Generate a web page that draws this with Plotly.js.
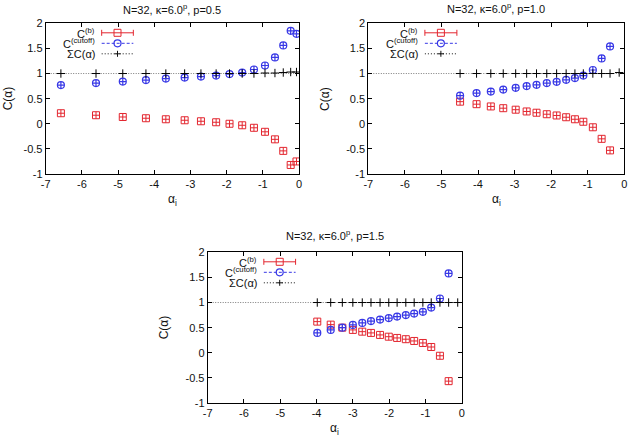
<!DOCTYPE html>
<html>
<head>
<meta charset="utf-8">
<script src="https://cdn.plot.ly/plotly-3.0.1.min.js"></script>
<style>
  html, body { margin: 0; padding: 0; background: #fff; }
  #chart { width: 630px; height: 438px; }
</style>
</head>
<body>
<div id="chart"></div>
<script>
// ---- data: p = 0.5 ----
const alphaP05 = [-6.58, -5.61, -4.87, -4.23, -3.68, -3.16, -2.71, -2.29, -1.92, -1.57, -1.245, -0.94, -0.665, -0.435, -0.23, -0.07];
const cbP05    = [0.21, 0.17, 0.135, 0.11, 0.09, 0.07, 0.05, 0.03, 0.0, -0.03, -0.08, -0.16, -0.31, -0.54, -0.82, -0.75];
const ccutP05  = [0.77, 0.81, 0.84, 0.87, 0.90, 0.92, 0.94, 0.96, 0.99, 1.02, 1.08, 1.16, 1.32, 1.56, 1.85, 1.79];
const csumP05  = [1.0, 1.0, 1.0, 1.0, 1.0, 1.0, 1.0, 1.0, 1.0, 1.0, 1.0, 1.01, 1.01, 1.02, 1.03, 1.03];

// ---- data: p = 1.0 (last point of C(b), C(cutoff) lies outside the y range) ----
const alphaP10 = [-4.49, -4.04, -3.65, -3.31, -2.97, -2.67, -2.40, -2.12, -1.85, -1.59, -1.35, -1.12, -0.86, -0.62, -0.39, -0.14];
const cbP10    = [0.44, 0.39, 0.345, 0.31, 0.28, 0.245, 0.22, 0.19, 0.165, 0.13, 0.09, 0.04, -0.07, -0.30, -0.53, null];
const ccutP10  = [0.56, 0.61, 0.64, 0.68, 0.715, 0.75, 0.775, 0.81, 0.835, 0.875, 0.91, 0.96, 1.07, 1.30, 1.54, null];
const csumP10  = [1.0, 1.0, 1.0, 1.0, 1.0, 1.0, 1.0, 1.0, 1.0, 1.0, 1.0, 1.0, 1.0, 1.0, 1.0, 1.02];

// ---- data: p = 1.5 ----
const alphaP15 = [-3.98, -3.61, -3.29, -3.00, -2.74, -2.50, -2.25, -2.01, -1.78, -1.54, -1.31, -1.07, -0.84, -0.60, -0.36, -0.11];
const cbP15    = [0.62, 0.56, 0.50, 0.455, 0.42, 0.395, 0.355, 0.32, 0.295, 0.27, 0.235, 0.195, 0.115, -0.06, -0.565, null];
const ccutP15  = [0.395, 0.455, 0.50, 0.555, 0.595, 0.63, 0.66, 0.69, 0.72, 0.75, 0.78, 0.815, 0.90, 1.08, 1.58, null];
const csumP15  = [1.0, 1.0, 1.0, 1.0, 1.0, 1.0, 1.0, 1.0, 1.0, 1.0, 1.0, 1.0, 1.0, 1.0, 1.0, 1.0];

// ---- labels ----
const panelTitles = ['N=32, κ=6.0<sup>p</sup>, p=0.5', 'N=32, κ=6.0<sup>p</sup>, p=1.0', 'N=32, κ=6.0<sup>p</sup>, p=1.5'];
const seriesNames = ['C<sup>(b)</sup>', 'C<sup>(cutoff)</sup>', 'ΣC(α)'];
const xTickVals = [-7, -6, -5, -4, -3, -2, -1, 0];
const xTickText = ['-7', '-6', '-5', '-4', '-3', '-2', '-1', '0'];
const yTickVals = [-1, -0.5, 0, 0.5, 1, 1.5, 2];
const yTickText = ['-1', '-0.5', '0', '0.5', '1', '1.5', '2'];
const xTitle = 'α<sub>i</sub>';
const yTitle = 'C(α)';
const unitLevel = 1;

// ---- styling ----
const RED = '#e3262f';
const BLUE = '#3838e6';
const BLACK = '#000000';
const FONT = 'Liberation Sans, Arial, sans-serif';
const W = 630, H = 438;

// plot rectangles in pixels: [left, right, top, bottom]
const boxes = [
  [45.7, 299.0, 23.3, 174.0],
  [368.3, 624.3, 23.3, 174.0],
  [207.7, 461.7, 252.3, 403.0]
];
const panelData = [
  { a: alphaP05, cb: cbP05, cc: ccutP05, cs: csumP05, titleGap: 14, yTitleGap: 38 },
  { a: alphaP10, cb: cbP10, cc: ccutP10, cs: csumP10, titleGap: 15, yTitleGap: 44 },
  { a: alphaP15, cb: cbP15, cc: ccutP15, cs: csumP15, titleGap: 17, yTitleGap: 44 }
];

const traces = [];
const shapes = [];
const annotations = [];
const layout = {
  width: W, height: H,
  margin: { l: 0, r: 0, t: 0, b: 0 },
  paper_bgcolor: '#fff', plot_bgcolor: '#fff',
  showlegend: false,
  font: { family: FONT, size: 11, color: '#111' }
};

panelData.forEach((p, i) => {
  const n = i === 0 ? '' : String(i + 1);
  const xa = 'x' + n, ya = 'y' + n;
  const [l, r, t, b] = boxes[i];
  const plotH = b - t;

  const axisCommon = {
    showline: true, linecolor: BLACK, linewidth: 1, mirror: 'ticks',
    ticks: 'inside', ticklen: 4, tickcolor: BLACK, tickwidth: 1,
    showgrid: false, zeroline: false,
    tickfont: { family: FONT, size: 11, color: '#111' }
  };
  layout['xaxis' + n] = Object.assign({}, axisCommon, {
    anchor: ya, domain: [l / W, r / W], range: [-7, 0],
    tickmode: 'array', tickvals: xTickVals, ticktext: xTickText
  });
  layout['yaxis' + n] = Object.assign({}, axisCommon, {
    anchor: xa, domain: [(H - b) / H, (H - t) / H], range: [-1, 2],
    tickmode: 'array', tickvals: yTickVals, ticktext: yTickText
  });

  // reference level at C = 1
  shapes.push({
    type: 'line', xref: xa + ' domain', yref: ya, x0: 0, x1: 1, y0: unitLevel, y1: unitLevel,
    line: { color: '#7a7a7a', width: 1, dash: '1px,1.5px' }, layer: 'below'
  });

  traces.push({
    x: p.a, y: p.cb, xaxis: xa, yaxis: ya, type: 'scatter', mode: 'markers', name: 'C(b)',
    marker: { symbol: 'square-cross-open', size: 7, color: RED, line: { width: 1, color: RED } }
  });
  traces.push({
    x: p.a, y: p.cc, xaxis: xa, yaxis: ya, type: 'scatter', mode: 'markers', name: 'C(cutoff)',
    marker: { symbol: 'circle-cross-open', size: 7, color: BLUE, line: { width: 1.2, color: BLUE } }
  });
  traces.push({
    x: p.a, y: p.cs, xaxis: xa, yaxis: ya, type: 'scatter', mode: 'markers', name: 'ΣC(α)',
    marker: { symbol: 'cross-thin-open', size: 6, color: BLACK, line: { width: 1, color: '#111' } }
  });

  // panel title and axis titles
  annotations.push({
    xref: xa + ' domain', yref: ya + ' domain', x: 0.5, y: 1 + p.titleGap / plotH,
    xanchor: 'center', yanchor: 'middle', showarrow: false, text: panelTitles[i],
    font: { family: FONT, size: 11, color: '#111' }
  });
  annotations.push({
    xref: xa + ' domain', yref: ya + ' domain', x: 0.5, y: -26 / plotH,
    xanchor: 'center', yanchor: 'middle', showarrow: false, text: xTitle,
    font: { family: FONT, size: 12, color: '#111' }
  });
  annotations.push({
    xref: xa + ' domain', yref: ya + ' domain', x: -p.yTitleGap / (r - l), y: 0.5,
    xanchor: 'center', yanchor: 'middle', showarrow: false, text: yTitle, textangle: -90,
    font: { family: FONT, size: 12, color: '#111' }
  });

  // key box in the upper-left corner
  const rowY = [1 - 9.5 / plotH, 1 - 20 / plotH, 1 - 30.5 / plotH];
  const k0 = 0.221, k1 = 0.346, km = (k0 + k1) / 2;
  const xd = xa + ' domain', yd = ya + ' domain';
  const keyColors = [RED, BLUE, '#111'];
  const keyDash = ['solid', '3px,2px', '1px,2px'];
  rowY.forEach((yy, j) => {
    annotations.push({
      xref: xd, yref: yd, x: 0.203, y: yy, xanchor: 'right', yanchor: 'middle',
      showarrow: false, text: seriesNames[j], font: { family: FONT, size: 11, color: '#111' }
    });
    shapes.push({
      type: 'line', xref: xd, yref: yd, x0: k0, x1: k1, y0: yy, y1: yy,
      line: { color: keyColors[j], width: 1, dash: keyDash[j] }
    });
  });
  // error-bar ends on the C(b) key
  [k0, k1].forEach(xx => {
    shapes.push({
      type: 'line', xref: xd, yref: yd, xsizemode: 'scaled', ysizemode: 'pixel',
      yanchor: rowY[0], x0: xx, x1: xx, y0: -3, y1: 3, line: { color: RED, width: 1 }
    });
  });
  shapes.push({
    type: 'rect', xref: xd, yref: yd, xsizemode: 'pixel', ysizemode: 'pixel',
    xanchor: km, yanchor: rowY[0], x0: -3.5, x1: 3.5, y0: -3.5, y1: 3.5,
    line: { color: RED, width: 1 }, fillcolor: 'rgba(0,0,0,0)'
  });
  shapes.push({
    type: 'circle', xref: xd, yref: yd, xsizemode: 'pixel', ysizemode: 'pixel',
    xanchor: km, yanchor: rowY[1], x0: -3.5, x1: 3.5, y0: -3.5, y1: 3.5,
    line: { color: BLUE, width: 1.2 }, fillcolor: 'rgba(0,0,0,0)'
  });
  shapes.push({
    type: 'line', xref: xd, yref: yd, xsizemode: 'pixel', ysizemode: 'pixel',
    xanchor: km, yanchor: rowY[2], x0: 0, x1: 0, y0: -3, y1: 3,
    line: { color: '#111', width: 1 }
  });
  shapes.push({
    type: 'line', xref: xd, yref: yd, xsizemode: 'pixel', ysizemode: 'pixel',
    xanchor: km, yanchor: rowY[2], x0: -3, x1: 3, y0: 0, y1: 0,
    line: { color: '#111', width: 1 }
  });
});

layout.shapes = shapes;
layout.annotations = annotations;

Plotly.newPlot('chart', traces, layout, { displayModeBar: false, staticPlot: true });
</script>
</body>
</html>
